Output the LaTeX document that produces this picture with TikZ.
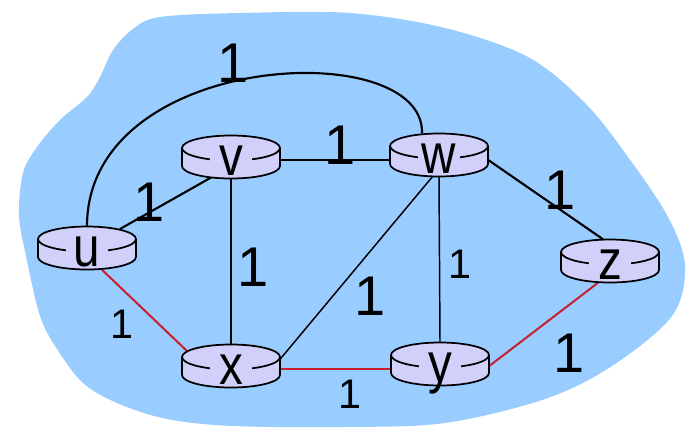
\documentclass[tikz,border=0pt]{standalone}
\usepackage{fontspec}
\newfontfamily\arialf{Liberation Sans}
\definecolor{cloud}{RGB}{153,204,255}
\definecolor{rfill}{RGB}{208,208,250}
\definecolor{redline}{RGB}{200,30,45}
\newcommand\drawrouter[2]{%
  \begin{scope}[shift={(#1,#2)}]
    \filldraw[fill=rfill, draw=black, line width=1.3pt] (-49,-9) -- (-49,9)
      arc[start angle=180, end angle=0, x radius=49, y radius=12.5] -- (49,-9)
      arc[start angle=0, end angle=-180, x radius=49, y radius=12.5] -- cycle;
    \draw[line width=1.3pt] (-49,-9) arc[start angle=180, end angle=0, x radius=49, y radius=12.5];
    \fill[rfill] (-21,-1) rectangle (21,6);
  \end{scope}}
\begin{document}
\begin{tikzpicture}[x=0.75pt, y=-0.75pt,
  rnode/.style={draw=none, minimum width=73.5pt, minimum height=32.25pt, inner sep=0pt},
  lettr/.style={anchor=base, inner sep=0pt, font=\arialf\fontsize{42}{42}\selectfont},
  biglbl/.style={inner sep=0pt, font=\arialf\fontsize{42}{42}\selectfont},
  smalllbl/.style={inner sep=0pt, font=\arialf\fontsize{31}{31}\selectfont},
  thickline/.style={line width=1.6pt, black},
  thinline/.style={line width=1.1pt, black},
  redl/.style={line width=1.5pt, redline}]
\useasboundingbox (0,0) rectangle (695,436);
% cloud
\fill[cloud] plot[smooth cycle, tension=0.55] coordinates {(160,17) (240,13) (350,13) (445,28) (528,57) (585,103) (628,157) (668,217) (685,266) (672,316) (612,366) (545,399) (445,423) (345,427) (233,426) (167,419) (117,403) (83,383) (57,349) (40,316) (26,256) (19,215) (23,173) (37,147) (60,120) (87,97) (100,77) (113,50) (133,29)};
% invisible router nodes
\node[rnode] (u) at (87,248) {};
\node[rnode] (v) at (231,157) {};
\node[rnode] (w) at (439,155) {};
\node[rnode] (x) at (231,366) {};
\node[rnode] (y) at (440,364) {};
\node[rnode] (z) at (610,261) {};
% links
\draw[thickline] (u.north) .. controls +(0,-176) and +(3,-98) .. ([shift={(-17,0)}]w.north);
\draw[thickline] ([shift={(33,-19)}]u.center) -- ([shift={(-19,20)}]v.center);
\draw[thickline] ([shift={(0,3)}]v.east) -- ([shift={(0,5)}]w.west);
\draw[thinline] (v.south) -- (x.north);
\draw[thinline] (w.south) -- (y.north);
\draw[thinline] ([shift={(-6,21)}]w.center) -- ([shift={(0,-7)}]x.east);
\draw[thickline] ([shift={(0,5)}]w.east) -- ([shift={(-7,0)}]z.north);
\draw[redl] ([shift={(15,0)}]u.south) -- ([shift={(-44,-15)}]x.center);
\draw[redl, line width=2pt] ([shift={(0,3)}]x.east) -- ([shift={(0,5)}]y.west);
\draw[redl] ([shift={(0,2)}]y.east) -- ([shift={(-12,0)}]z.south);
% routers
\drawrouter{87}{248}
\drawrouter{231}{157}
\drawrouter{439}{155}
\drawrouter{231}{366}
\drawrouter{440}{364}
\drawrouter{610}{261}
\node[lettr] (ulbl) at (87,266) {\scalebox{0.85}[1]{u}};
\node[lettr] (vlbl) at (231,175) {\scalebox{0.85}[1]{v}};
\node[lettr] (wlbl) at (439,173) {\scalebox{0.85}[1]{w}};
\node[lettr] (xlbl) at (231,384) {\scalebox{0.85}[1]{x}};
\node[lettr] (ylbl) at (440,382) {\scalebox{0.85}[1]{y}};
\node[lettr] (zlbl) at (610,279) {\scalebox{0.85}[1]{z}};
% link costs
\node[biglbl] (c-uw) at (233,63) {1};
\node[biglbl] (c-vw) at (340,145) {1};
\node[biglbl] (c-uv) at (149,202) {1};
\node[smalllbl] (c-ux) at (122,324) {1};
\node[biglbl] (c-vx) at (253,267) {1};
\node[biglbl] (c-xw) at (370,296) {1};
\node[smalllbl] (c-wy) at (460,264) {1};
\node[biglbl] (c-wz) at (560,190) {1};
\node[smalllbl] (c-xy) at (350,394) {1};
\node[biglbl] (c-yz) at (569,353) {1};
\end{tikzpicture}
\end{document}
